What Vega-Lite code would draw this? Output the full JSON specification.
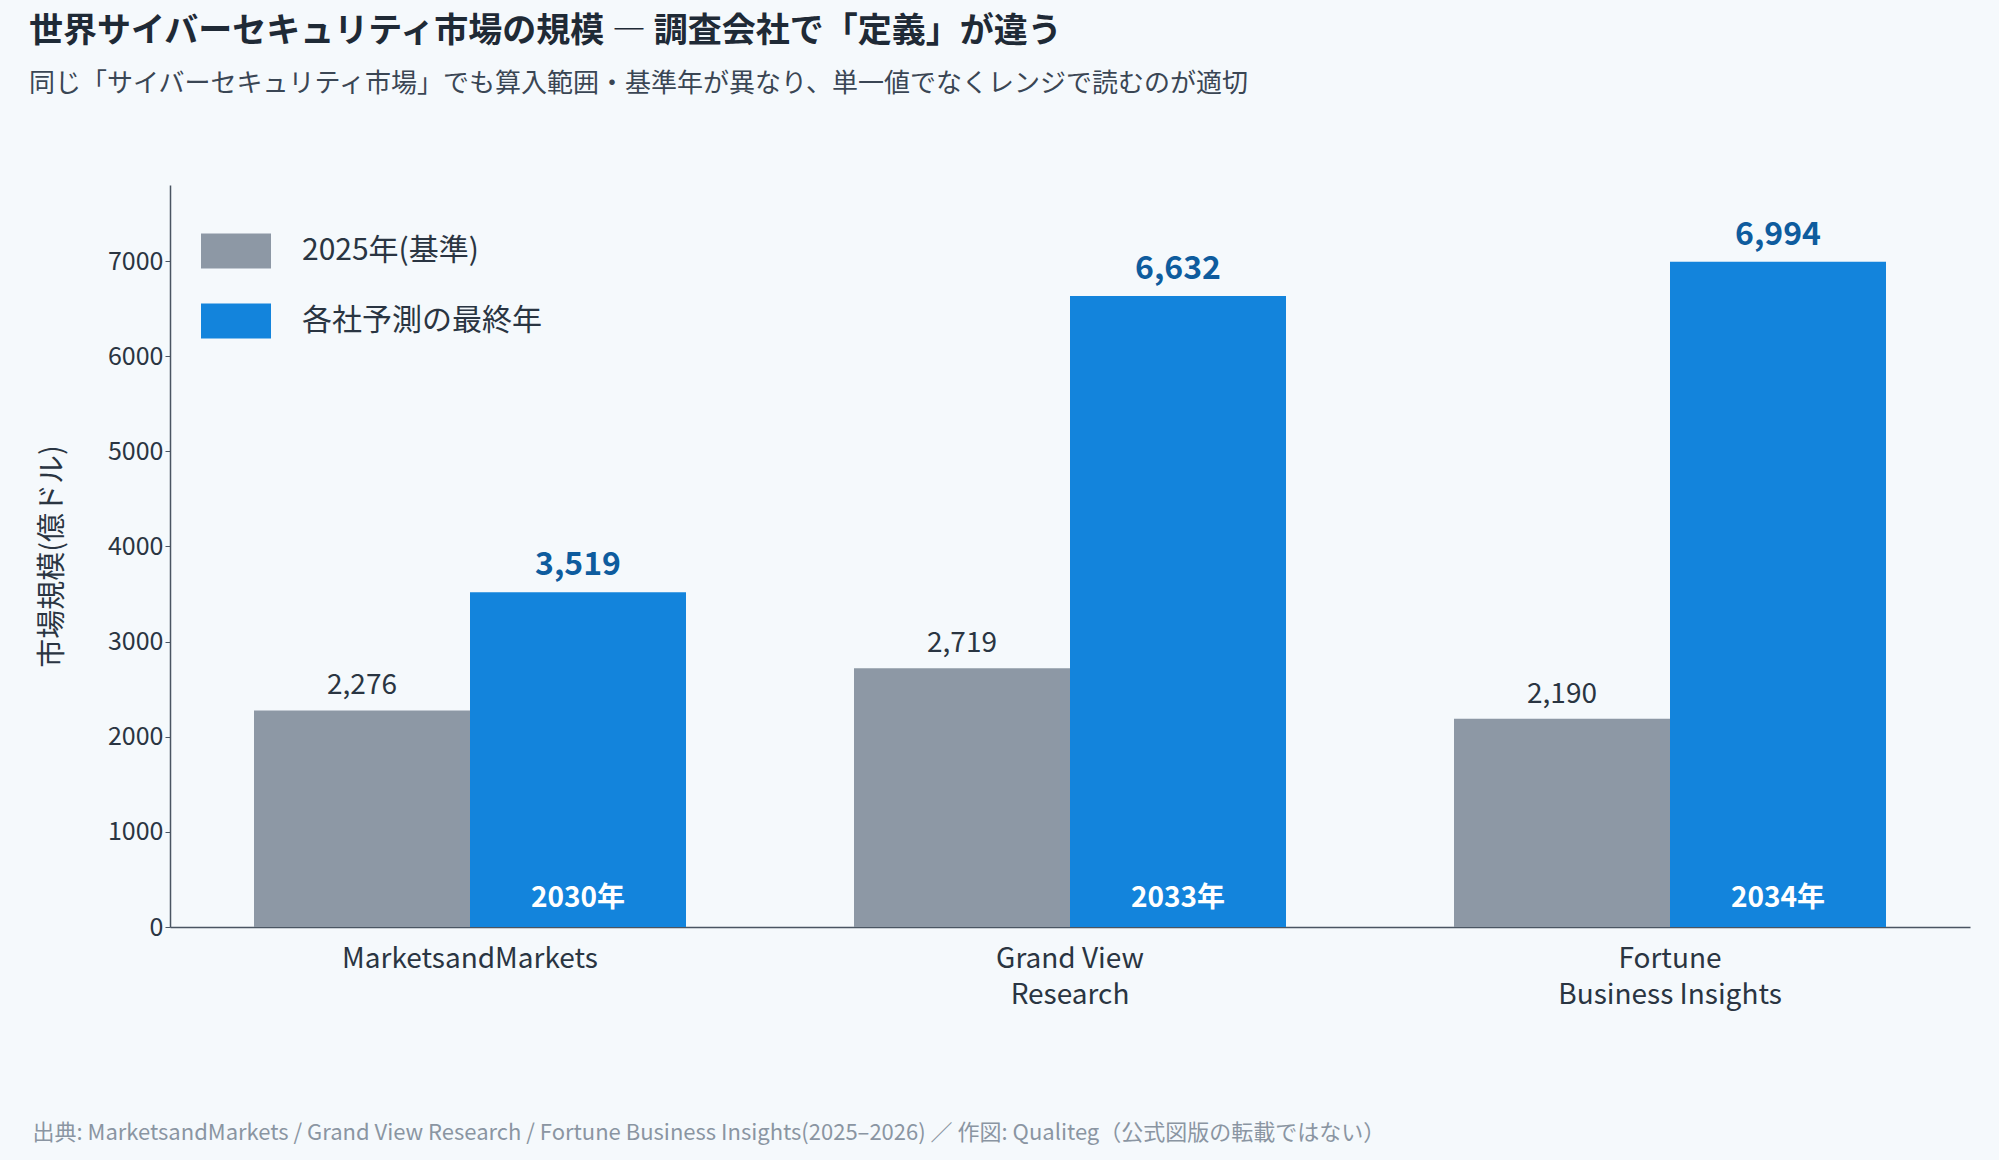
{
  "$schema": "https://vega.github.io/schema/vega-lite/v6.json",
  "width": 1800,
  "height": 742,
  "autosize": "none",
  "padding": {"left": 170, "top": 185, "right": 29, "bottom": 233},
  "background": "#f5f9fc",
  "title": {
    "text": "世界サイバーセキュリティ市場の規模 ― 調査会社で「定義」が違う",
    "subtitle": "同じ「サイバーセキュリティ市場」でも算入範囲・基準年が異なり、単一値でなくレンジで読むのが適切",
    "anchor": "start",
    "dx": -3,
    "offset": 88,
    "fontSize": 34,
    "fontWeight": "bold",
    "color": "#1f2a36",
    "subtitleFontSize": 26,
    "subtitleColor": "#3a4654",
    "subtitlePadding": 22,
    "limit": 0
  },
  "data": {
    "values": [
      {"company": "MarketsandMarkets", "series": "2025年(基準)", "value": 2276, "year": ""},
      {"company": "MarketsandMarkets", "series": "各社予測の最終年", "value": 3519, "year": "2030年"},
      {"company": "Grand View Research", "series": "2025年(基準)", "value": 2719, "year": ""},
      {"company": "Grand View Research", "series": "各社予測の最終年", "value": 6632, "year": "2033年"},
      {"company": "Fortune Business Insights", "series": "2025年(基準)", "value": 2190, "year": ""},
      {"company": "Fortune Business Insights", "series": "各社予測の最終年", "value": 6994, "year": "2034年"}
    ]
  },
  "encoding": {
    "x": {
      "field": "company",
      "type": "nominal",
      "sort": null,
      "scale": {"paddingInner": 0.28, "paddingOuter": 0.14},
      "title": "出典: MarketsandMarkets / Grand View Research / Fortune Business Insights(2025–2026) ／ 作図: Qualiteg（公式図版の転載ではない）",
      "axis": {
        "labelAngle": 0,
        "labelFontSize": 28,
        "labelColor": "#2a3542",
        "labelPadding": 18,
        "labelLimit": 0,
        "labelLineHeight": 36,
        "ticks": false,
        "labelExpr": "datum.value == 'Grand View Research' ? ['Grand View','Research'] : datum.value == 'Fortune Business Insights' ? ['Fortune','Business Insights'] : datum.value",
        "titleAnchor": "start",
        "titleAlign": "left",
        "titleX": -138,
        "titleY": 195,
        "titleLimit": 0,
        "titleFontSize": 22,
        "titleFontWeight": "normal",
        "titleColor": "#8a95a2"
      }
    },
    "xOffset": {"field": "series", "type": "nominal", "sort": null},
    "y": {
      "field": "value",
      "type": "quantitative",
      "scale": {"domain": [0, 7800], "nice": false},
      "title": "市場規模(億ドル)",
      "axis": {
        "values": [0, 1000, 2000, 3000, 4000, 5000, 6000, 7000],
        "format": "d",
        "grid": false,
        "labelFontSize": 25,
        "labelColor": "#2a3542",
        "titleFontSize": 29,
        "titleFontWeight": "normal",
        "titleColor": "#2a3542",
        "titlePadding": 40
      }
    }
  },
  "layer": [
    {
      "mark": {"type": "bar"},
      "encoding": {
        "color": {
          "field": "series",
          "type": "nominal",
          "sort": null,
          "scale": {"domain": ["2025年(基準)", "各社予測の最終年"], "range": ["#8d98a5", "#1384dc"]},
          "legend": {
            "title": null,
            "orient": "top-left",
            "offset": 30,
            "labelFontSize": 30,
            "labelLimit": 0,
            "labelColor": "#2a3542",
            "symbolType": "M-1,-0.5H1V0.5H-1Z",
            "symbolSize": 4900,
            "symbolOpacity": 1,
            "rowPadding": 16,
            "labelOffset": 30
          }
        }
      }
    },
    {
      "transform": [{"filter": "datum.year == ''"}],
      "mark": {"type": "text", "baseline": "bottom", "dy": -10, "fontSize": 28, "color": "#2a3542"},
      "encoding": {"text": {"field": "value", "type": "quantitative", "format": ","}}
    },
    {
      "transform": [{"filter": "datum.year != ''"}],
      "mark": {"type": "text", "baseline": "bottom", "dy": -10, "fontSize": 32, "fontWeight": "bold", "color": "#0e5c9e"},
      "encoding": {"text": {"field": "value", "type": "quantitative", "format": ","}}
    },
    {
      "transform": [{"filter": "datum.year != ''"}],
      "mark": {"type": "text", "baseline": "bottom", "dy": -14, "fontSize": 28, "fontWeight": "bold", "color": "#ffffff"},
      "encoding": {"y": {"datum": 0}, "text": {"field": "year"}}
    }
  ],
  "config": {
    "font": "Noto Sans CJK JP",
    "view": {"stroke": null},
    "axis": {"domainColor": "#4a5562", "tickColor": "#4a5562", "domainWidth": 1.5}
  }
}
